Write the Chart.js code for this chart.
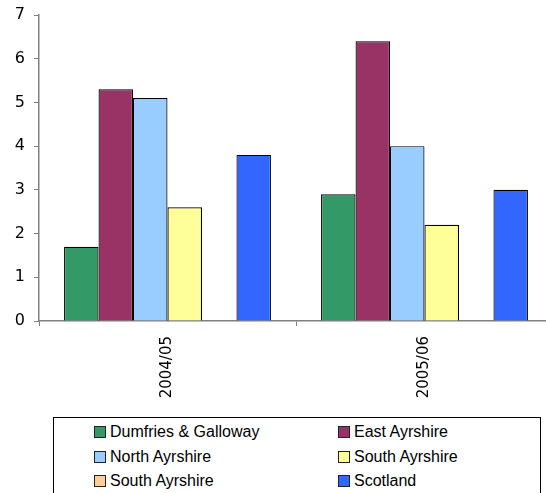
<!DOCTYPE html>
<html>
<head>
<meta charset="utf-8">
<script src="https://cdn.jsdelivr.net/npm/chart.js@4/dist/chart.umd.min.js"></script>
<style>
    html, body { margin: 0; padding: 0; background: #fff; overflow: hidden; }
    body { width: 546px; height: 493px; position: relative; }
    #wrap { position: absolute; left: 0; top: 0; width: 553px; height: 401px; }
    #legend {
        position: absolute; left: 53px; top: 417px; width: 488px; height: 90px;
        border: 1px solid #000; box-sizing: border-box;
        font-family: "Liberation Sans", Arial, sans-serif; font-size: 16px; color: #000;
    }
    .item { position: absolute; display: flex; align-items: center; white-space: nowrap; }
    .box { width: 10px; height: 10px; border: 1px solid #222; margin-right: 4px; }
</style>
</head>
<body>
<div id="wrap"><canvas id="chart" width="553" height="401"></canvas></div>
<div id="legend"></div>

<script>
/* ---------- data ---------- */
const categories = ["2004/05", "2005/06"];
const seriesNames = ["Dumfries & Galloway", "East Ayrshire", "North Ayrshire", "South Ayrshire", "South Ayrshire", "Scotland"];
const dumfries = [1.7, 2.9];
const eastAyrshire = [5.3, 6.4];
const northAyrshire = [5.1, 4.0];
const southAyrshire = [2.6, 2.2];
const southAyrshire2 = [null, null];
const scotland = [3.8, 3.0];
const yTicks = [0, 1, 2, 3, 4, 5, 6, 7];

const seriesColors = ["#339966", "#993366", "#99CCFF", "#FFFF99", "#FFCC99", "#3366FF"];
const seriesValues = [dumfries, eastAyrshire, northAyrshire, southAyrshire, southAyrshire2, scotland];

const axisGray = "#808080";

/* ---------- chart ---------- */
const ctx = document.getElementById("chart");

new Chart(ctx, {
    type: "bar",
    data: {
        labels: categories,
        datasets: seriesNames.map((name, i) => ({
            label: name,
            data: seriesValues[i],
            backgroundColor: seriesColors[i],
            borderColor: "#000",
            borderWidth: 1.2,
            categoryPercentage: 0.805,
            barPercentage: 1
        }))
    },
    options: {
        responsive: false,
        animation: false,
        devicePixelRatio: 1,
        layout: { padding: { top: 15, right: 0, left: 0, bottom: 0 } },
        plugins: {
            legend: { display: false },
            tooltip: { enabled: false }
        },
        scales: {
            x: {
                grid: {
                    offset: true,
                    drawOnChartArea: false,
                    drawTicks: true,
                    tickLength: 5,
                    color: axisGray
                },
                border: { display: true, color: axisGray, width: 1.5 },
                ticks: {
                    color: "#000",
                    font: { family: "DejaVu Sans", size: 15 },
                    minRotation: 90,
                    maxRotation: 90,
                    padding: 10
                },
                afterFit: function(scale) { scale.height = 80; }
            },
            y: {
                min: yTicks[0],
                max: yTicks[yTicks.length - 1],
                afterBuildTicks: function(scale) {
                    scale.ticks = yTicks.map(v => ({ value: v }));
                },
                grid: {
                    drawOnChartArea: false,
                    drawTicks: true,
                    tickLength: 5,
                    color: axisGray
                },
                border: { display: true, color: axisGray, width: 1.5 },
                ticks: {
                    color: "#000",
                    font: { family: "DejaVu Sans", size: 16, lineHeight: 1 },
                    padding: 9
                },
                afterFit: function(scale) {
                    scale.width = 39;
                    scale.paddingTop = 0;
                    scale.paddingBottom = 0;
                }
            }
        }
    }
});

/* ---------- legend (two columns, like the original) ---------- */
const legend = document.getElementById("legend");
seriesNames.forEach((name, i) => {
    const item = document.createElement("div");
    item.className = "item";
    item.style.left = (40 + (i % 2) * 244) + "px";
    item.style.top = (5 + Math.floor(i / 2) * 24.5) + "px";
    const box = document.createElement("span");
    box.className = "box";
    box.style.background = seriesColors[i];
    item.appendChild(box);
    item.appendChild(document.createTextNode(name));
    legend.appendChild(item);
});
</script>
</body>
</html>
